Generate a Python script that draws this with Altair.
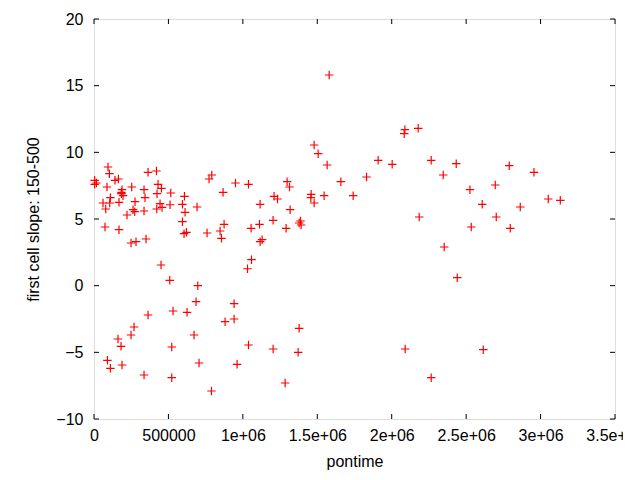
import altair as alt
import pandas as pd

# pontime values
pontime = [
    4700, 16100, 4700, 94100, 103500, 87400, 141200, 164000, 188200, 184200, 184200,
    194900, 110200, 60500, 105500, 168000, 78600, 253400, 275600, 221800, 262200,
    273600, 336100, 342800, 336100, 363000, 419500, 430200, 453000, 423500, 443700,
    457100, 421500, 515600, 510900, 607700, 594200, 611700, 692400, 594200, 605000,
    621100, 73900, 168000, 248700, 282300, 349500, 450400, 508900, 697100, 773000,
    791200, 950500, 1037900, 867100, 1115900, 759600, 847000, 856400, 873900, 1055400,
    1111800, 1115900, 1129300, 1058100, 1031200,
    90100, 110200, 161300, 181500, 188200, 248700, 268900, 336100, 363000, 531000,
    522300, 522300, 625100, 672200, 685600, 705800, 789200, 880600, 941100, 941100,
    961300, 1037900,
    1579700, 1478800, 1505700, 1566300, 1909000, 2003200, 2265300, 1831100, 1658300,
    1297300, 1313500, 1209900, 1232800, 1458700, 1456700, 1478800, 1546000, 1741100,
    1317500, 1203200, 1290600, 1387400, 1378000, 1391400, 2184600, 2088500, 2083800,
    2177900, 2433400, 2346000, 2789600, 2955700, 2695500, 2525500, 2608100, 3051800,
    3132500, 2863600, 2702200, 2534200, 2796400, 2352700, 2440100, 2090500, 2614900,
    2265300, 1378000, 1203200, 1371300, 1283900,
]
# first cell slope values
slope = [
    7.9, 7.7, 7.6, 8.9, 8.4, 7.4, 7.9, 8.0, 7.2, 7.0, 6.9,
    6.75, 6.6, 6.2, 6.2, 6.25, 5.75, 7.4, 6.3, 5.3, 5.7,
    5.55, 7.2, 6.6, 5.6, 8.5, 8.6, 7.6, 7.3, 6.9, 6.15,
    5.87, 5.75, 6.95, 6.07, 6.7, 6.1, 5.5, 5.9, 4.8, 3.9,
    4.0, 4.4, 4.2, 3.2, 3.3, 3.5, 1.55, 0.4, 0.0, 8.0,
    8.3, 7.7, 7.6, 7.0, 6.1, 3.95, 4.1, 3.55, 4.6, 4.3,
    4.6, 3.3, 3.45, 1.95, 1.27,
    -5.6, -6.2, -4.0, -4.55, -5.95, -3.7, -3.1, -6.7, -2.2, -1.9,
    -4.6, -6.9, -2.0, -3.7, -1.2, -5.8, -7.9, -2.7, -1.35, -2.5,
    -5.9, -4.45,
    15.8, 10.55, 9.9, 9.05, 9.4, 9.1, 9.4, 8.15, 7.8,
    7.8, 7.4, 6.7, 6.5, 6.85, 6.6, 6.2, 6.75, 6.75,
    5.7, 4.9, 4.3, 4.85, 4.7, 4.55, 5.15, 11.7, 11.4,
    11.8, 9.15, 8.3, 9.0, 8.5, 7.55, 7.2, 6.1, 6.5,
    6.4, 5.9, 5.15, 4.4, 4.3, 2.9, 0.6, -4.75, -4.8,
    -6.9, -3.2, -4.75, -5.0, -7.3,
]

x_ticks = [0, 500000, 1000000, 1500000, 2000000, 2500000, 3000000, 3500000]
y_ticks = [-10, -5, 0, 5, 10, 15, 20]

W, H = 521, 400
FONT = "Liberation Sans"
FS = 16
TL = 5

df = pd.DataFrame({"pontime": pontime, "slope": slope})
xt = pd.DataFrame({"pontime": x_ticks})
yt = pd.DataFrame({"slope": y_ticks})

xscale = alt.Scale(domain=[0, 3500000], nice=False)
yscale = alt.Scale(domain=[-10, 20], nice=False)

xaxis = alt.Axis(
    values=x_ticks,
    labelExpr="datum.value >= 1000000 ? format(datum.value/1000000, '') + 'e+06' : format(datum.value, 'd')",
    domain=False, ticks=False, grid=False,
    labelFont=FONT, labelFontSize=FS, labelColor="#000000", labelPadding=8,
    labelFlush=False, labelOverlap=False,
    title="pontime", titleFont=FONT, titleFontSize=FS, titleFontWeight="normal",
    titleColor="#000000", titleX=W / 2, titleY=42, titleBaseline="middle",
)
yaxis = alt.Axis(
    values=y_ticks, format="d",
    domain=False, ticks=False, grid=False,
    labelFont=FONT, labelFontSize=FS, labelColor="#000000", labelPadding=11,
    labelFlush=False, labelOverlap=False,
    title="first cell slope: 150-500", titleFont=FONT, titleFontSize=FS,
    titleFontWeight="normal", titleColor="#000000", titleX=-61, titleY=H / 2,
    titleAngle=-90, titleBaseline="middle", titleAlign="center",
)

X = alt.X("pontime:Q", scale=xscale, axis=xaxis)
Y = alt.Y("slope:Q", scale=yscale, axis=yaxis)

points = alt.Chart(df).mark_point(
    shape="M-1,0L1,0M0,-1L0,1", size=72, filled=False, stroke="#ff0000",
    strokeWidth=1.2, opacity=1,
).encode(x=X, y=Y)

xb = alt.Chart(xt).mark_rule(color="#000000", strokeWidth=1).encode(
    x=X, y=alt.value(H), y2=alt.value(H - TL))
xtop = alt.Chart(xt).mark_rule(color="#000000", strokeWidth=1).encode(
    x=X, y=alt.value(0), y2=alt.value(TL))
yl = alt.Chart(yt).mark_rule(color="#000000", strokeWidth=1).encode(
    y=Y, x=alt.value(0), x2=alt.value(TL))
yr = alt.Chart(yt).mark_rule(color="#000000", strokeWidth=1).encode(
    y=Y, x=alt.value(W), x2=alt.value(W - TL))

chart = alt.layer(points, xb, xtop, yl, yr).properties(
    width=W, height=H,
    autosize=alt.AutoSizeParams(type="none"),
    padding={"left": 86, "top": 11, "right": 8, "bottom": 53},
).configure_view(stroke="#000000", strokeWidth=1).configure(background="white")

chart.save("out.html", embed_options={"renderer": "svg", "actions": False})
